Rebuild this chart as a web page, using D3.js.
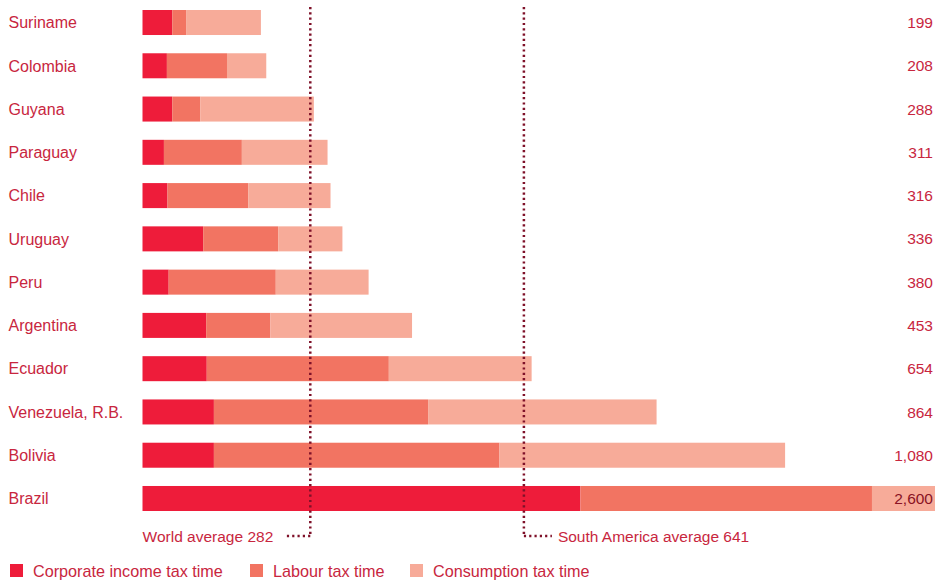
<!DOCTYPE html>
<html><head><meta charset="utf-8">
<script src="https://cdn.jsdelivr.net/npm/d3@7"></script>
<style>body{margin:0;background:#fff}svg{display:block}text{font-family:"Liberation Sans",Arial,sans-serif}</style>
</head><body><svg id="c" width="935" height="581"></svg>
<script>
const countries = ["Suriname","Colombia","Guyana","Paraguay","Chile","Uruguay","Peru","Argentina","Ecuador","Venezuela, R.B.","Bolivia","Brazil"];
const corporate = [50,41,50,36,42,102,44,107,108,120,120,736];
const labour = [24,101,47,131,136,126,180,108,306,360,480,490];
const consumption = [125,66,191,144,138,108,156,238,240,384,480,1374];
const totals = [199,208,288,311,316,336,380,453,654,864,1080,2600];
const seriesNames = ["Corporate income tax time","Labour tax time","Consumption tax time"];
const colors = ["#ee1c3a","#f27462","#f7ab99"];
const worldAvg = 282, saAvg = 641;

const svg = d3.select("#c");
const textColor = "#c8263e";
const lineColor = "#7f1129";
const x = d3.scaleLinear().domain([0,1000]).range([142.5,142.5+595]);
const y = d3.scaleBand().domain(countries).range([10,511]).paddingInner(0.422).paddingOuter(0);

const rows = countries.map((c,i)=>({country:c, corporate:corporate[i], labour:labour[i], consumption:consumption[i], total:totals[i]}));
const stack = d3.stack().keys(["corporate","labour","consumption"])(rows);

svg.append("g").selectAll("g").data(stack).join("g")
  .attr("fill",(d,i)=>colors[i])
  .selectAll("rect").data(d=>d).join("rect")
  .attr("x",d=>x(d[0])).attr("width",d=>x(d[1])-x(d[0]))
  .attr("y",d=>y(d.data.country)).attr("height",y.bandwidth());

// country labels
svg.append("g").selectAll("text").data(countries).join("text")
  .attr("x",8.5).attr("y",d=>y(d)+y.bandwidth()/2).attr("dy","0.36em")
  .attr("font-size",16).attr("fill",textColor).text(d=>d);

// totals
svg.append("g").selectAll("text").data(rows).join("text")
  .attr("x",933).attr("y",d=>y(d.country)+y.bandwidth()/2).attr("dy","0.36em")
  .attr("text-anchor","end").attr("font-size",15.5)
  .attr("fill",(d,i)=>i===rows.length-1?"#8a1224":textColor)
  .text(d=>d3.format(",")(d.total));

// average lines
const lineTop = 7, lineBottom = 536;
const dash = "2.2,3.1";
function avgLine(v, side, label){
  const lx = x(v);
  svg.append("line").attr("x1",lx).attr("x2",lx).attr("y1",lineTop).attr("y2",lineBottom)
    .attr("stroke",lineColor).attr("stroke-width",2.5).attr("stroke-dasharray",dash);
  const hx = side==="left" ? lx-25 : lx+28;
  svg.append("line").attr("x1",lx).attr("x2",hx).attr("y1",lineBottom).attr("y2",lineBottom)
    .attr("stroke",lineColor).attr("stroke-width",2.5).attr("stroke-dasharray",dash);
  svg.append("text").attr("x",side==="left"?lx-37:lx+34).attr("y",541.5)
    .attr("text-anchor",side==="left"?"end":"start").attr("font-size",15.5)
    .attr("fill",textColor).text(label);
}
avgLine(worldAvg,"left","World average "+worldAvg);
avgLine(saAvg,"right","South America average "+saAvg);

// legend
const legendX = [10,250,410];
const lg = svg.append("g").selectAll("g").data(seriesNames).join("g")
  .attr("transform",(d,i)=>`translate(${legendX[i]},564)`);
lg.append("rect").attr("width",13).attr("height",13).attr("fill",(d,i)=>colors[i]);
lg.append("text").attr("x",23).attr("y",12.8).attr("font-size",16.2).attr("fill",textColor).text(d=>d);
</script></body></html>
